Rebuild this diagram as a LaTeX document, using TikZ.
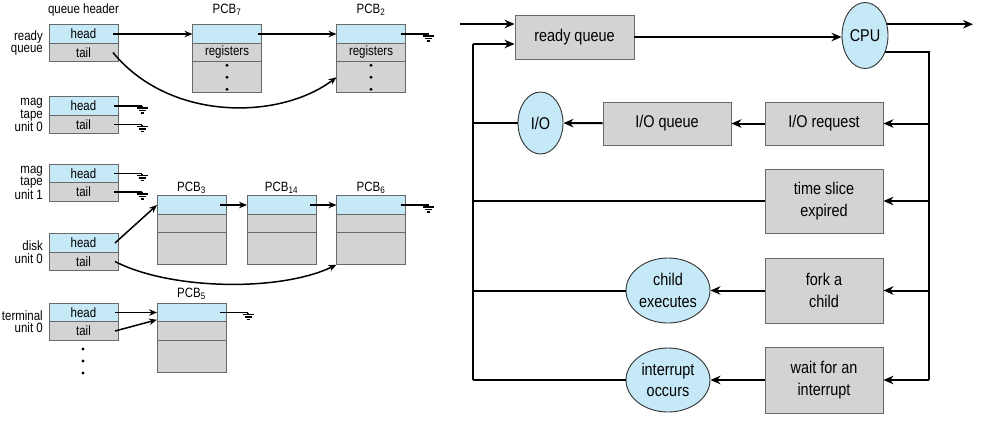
\documentclass[tikz,border=0pt]{standalone}
\usepackage{fontspec}
\setmainfont{Liberation Sans}[FakeStretch=0.85]
\usetikzlibrary{arrows.meta,calc,positioning,shapes.geometric}
\definecolor{cellblue}{RGB}{198,233,248}
\definecolor{cellgray}{RGB}{209,211,212}
\definecolor{celledge}{RGB}{105,105,105}
\def\pcbdots(#1){\foreach \k in {-12,0,12} \fill ($(#1)+(0,\k)$) circle (1.6);}
\tikzset{
  cell/.style={draw=celledge, line width=0.9pt, minimum width=69pt, minimum height=18.5pt,
    inner sep=0pt, outer sep=0pt, font=\fontsize{13.5}{14}\selectfont},
  hcell/.style={cell, fill=cellblue},
  tcell/.style={cell, fill=cellgray},
  title/.style={inner sep=0pt, font=\fontsize{13.5}{14}\selectfont},
  lbl/.style={align=right, inner sep=0pt, font=\fontsize{13.5}{12.5}\selectfont},
  link/.style={line width=1.5pt},
  larr/.style={link, -{Stealth[length=8pt,width=6.5pt]}},
  earth/.pic={\draw[line width=1.2pt] (0,0) -- (0,2) (-5.5,2) -- (5.5,2) (-3.5,4.5) -- (3.5,4.5) (-1.5,7) -- (1.5,7);},
  rbox/.style={draw=celledge, fill=cellgray, line width=0.9pt, minimum width=118pt, align=center,
    inner sep=0pt, font=\fontsize{17}{21.5}\selectfont},
  rell/.style={ellipse, draw=black!80, fill=cellblue, line width=0.9pt, align=center,
    inner sep=0pt, font=\fontsize{17}{21.5}\selectfont},
  flow/.style={line width=2pt},
  rarr/.style={flow, -{Stealth[length=10pt,width=8.5pt]}}
}

\begin{document}
\begin{tikzpicture}[x=1pt,y=-1pt]
			\useasboundingbox (0,0) rectangle (984,424);
			%%%%% LEFT: DEVICE QUEUES %%%%%
			\node[title] (qhdr) at (83.5,10) {queue header};
			
			\node[hcell] (rqh) at (83.5,34) {head};
			\node[tcell, below=0pt of rqh] (rqt) {tail};
			\node[lbl, left=6pt of rqh.south west] (rqlbl) {ready\\queue};
			
			\node[hcell] (mt0h) at (83.5,106) {head};
			\node[tcell, below=0pt of mt0h] (mt0t) {tail};
			\node[lbl, left=6pt of mt0h.south west] (mt0lbl) {mag\\tape\\unit 0};
			
			\node[hcell] (mt1h) at (83.5,173.5) {head};
			\node[tcell, below=0pt of mt1h] (mt1t) {tail};
			\node[lbl, left=6pt of mt1h.south west] (mt1lbl) {mag\\tape\\unit 1};
			
			\node[hcell] (dkh) at (83.5,243) {head};
			\node[tcell, below=0pt of dkh] (dkt) {tail};
			\node[lbl, left=6pt of dkh.south west] (dklbl) {disk\\unit 0};
			
			\node[hcell] (tmh) at (83.5,312.5) {head};
			\node[tcell, below=0pt of tmh] (tmt) {tail};
			\node[lbl, left=6pt of tmh.south west] (tmlbl) {terminal\\unit 0};
			\pcbdots(83,361)
			
			% ready queue PCBs
			\node[title] (p7lbl) at (227,10) {PCB\textsubscript{7}};
			\node[hcell] (p7a) at (227,34) {};
			\node[tcell, below=0pt of p7a] (p7b) {registers};
			\node[tcell, below=0pt of p7b, minimum height=31pt] (p7c) {};
			\pcbdots(p7c)
			
			\node[title] (p2lbl) at (371,10) {PCB\textsubscript{2}};
			\node[hcell] (p2a) at (371,34) {};
			\node[tcell, below=0pt of p2a] (p2b) {registers};
			\node[tcell, below=0pt of p2b, minimum height=31pt] (p2c) {};
			\pcbdots(p2c)
			
			% disk PCBs
			\node[title] (p3lbl) at (191.5,188) {PCB\textsubscript{3}};
			\node[hcell] (p3a) at (191.5,205) {};
			\node[tcell, below=0pt of p3a] (p3b) {};
			\node[tcell, below=0pt of p3b, minimum height=32pt] (p3c) {};
			
			\node[title] (p14lbl) at (281.5,188) {PCB\textsubscript{14}};
			\node[hcell] (p14a) at (281.5,205) {};
			\node[tcell, below=0pt of p14a] (p14b) {};
			\node[tcell, below=0pt of p14b, minimum height=32pt] (p14c) {};
			
			\node[title] (p6lbl) at (371,188) {PCB\textsubscript{6}};
			\node[hcell] (p6a) at (371,205) {};
			\node[tcell, below=0pt of p6a] (p6b) {};
			\node[tcell, below=0pt of p6b, minimum height=32pt] (p6c) {};
			
			% terminal PCB
			\node[title] (p5lbl) at (191.5,294) {PCB\textsubscript{5}};
			\node[hcell] (p5a) at (191.5,312.5) {};
			\node[tcell, below=0pt of p5a] (p5b) {};
			\node[tcell, below=0pt of p5b, minimum height=32pt] (p5c) {};
			
			% links
			\draw[larr] ([xshift=-5pt]rqh.east) -- (p7a.west);
			\draw[larr] ([xshift=-4pt]p7a.east) -- (p2a.west);
			\draw[larr] ([xshift=-5pt]rqt.east) .. controls (170,122) and (280,120) .. (p2c.west);
			\draw[link] ([xshift=-5pt]p2a.east) -- ++(28,0) pic {earth};
			
			\draw[link] ([xshift=-4pt]mt0h.east) -- ++(28,0) pic {earth};
			\draw[link] ([xshift=-4pt]mt0t.east) -- ++(28,0) pic {earth};
			\draw[link] ([xshift=-4pt]mt1h.east) -- ++(28,0) pic {earth};
			\draw[link] ([xshift=-4pt]mt1t.east) -- ++(28,0) pic {earth};
			
			\draw[larr] ([xshift=-3pt]dkh.east) -- (p3a.west);
			\draw[larr] ([xshift=-6pt]p3a.east) -- (p14a.west);
			\draw[larr] ([xshift=-6pt]p14a.east) -- (p6a.west);
			\draw[larr] ([xshift=-3pt]dkt.east) .. controls (170,290) and (280,292) .. (p6c.south west);
			\draw[link] ([xshift=-5pt]p6a.east) -- ++(28,0) pic {earth};
			
			\draw[larr] ([xshift=-3pt]tmh.east) -- (p5a.west);
			\draw[larr] ([xshift=-3pt]tmt.east) -- ([yshift=2pt]p5a.south west);
			\draw[link] ([xshift=-6pt]p5a.east) -- ++(28,0) pic {earth};
			
			%%%%% RIGHT: QUEUEING DIAGRAM %%%%%
			\node[rbox, minimum width=119pt, minimum height=44pt] (rq) at (574.5,37) {ready queue};
			\node[rell, minimum width=46pt, minimum height=66pt] (cpu) at (865,35.5) {CPU};
			\node[rell, minimum width=45pt, minimum height=62pt] (io) at (540.5,123) {I/O};
			\node[rbox, minimum width=128pt, minimum height=43pt] (ioq) at (667,123.5) {I/O queue};
			\node[rbox, minimum height=43pt] (iorq) at (824,123.5) {I/O request};
			\node[rbox, minimum height=64pt] (ts) at (824,201) {time slice\\expired};
			\node[rbox, minimum height=65pt] (fork) at (824,290.5) {fork a\\child};
			\node[rell, minimum width=84pt, minimum height=65pt] (chx) at (668,290.5) {child\\executes};
			\node[rbox, minimum height=66pt] (wait) at (824,380) {wait for an\\interrupt};
			\node[rell, minimum width=84pt, minimum height=64pt] (irq) at (668,380) {interrupt\\occurs};
			
			\coordinate (src) at (460,24);
			\coordinate (sink) at (973,25);
			\coordinate (lt) at (473,44);
			\coordinate (lb) at (473,380);
			\coordinate (rb) at (929,380);
			
			\draw[rarr] (src) -- (src -| rq.west);
			\draw[rarr] (lt) -- (lt -| rq.west);
			\draw[rarr] (rq.east) -- (rq.east -| cpu.west);
			\draw[rarr] (cpu.27) -- (cpu.27 -| sink);
			\draw[flow] (cpu.-40) -| (rb);
			
			\draw[rarr] (iorq.east -| rb) -- (iorq.east);
			\draw[rarr] (iorq) -- (ioq);
			\draw[rarr] (ioq) -- (io);
			\draw[flow] (io.west) -- (io.west -| lb);
			
			\draw[rarr] (ts.east -| rb) -- (ts.east);
			\draw[flow] (ts.west) -- (ts.west -| lb);
			
			\draw[rarr] (fork.east -| rb) -- (fork.east);
			\draw[rarr] (fork) -- (chx);
			\draw[flow] (chx.west) -- (chx.west -| lb);
			
			\draw[rarr] (rb) -- (wait.east);
			\draw[rarr] (wait) -- (irq);
			\draw[flow] (irq.west) -- (lb);
			
			\draw[flow] (lt) -- (lb);
		\end{tikzpicture}
\end{document}
